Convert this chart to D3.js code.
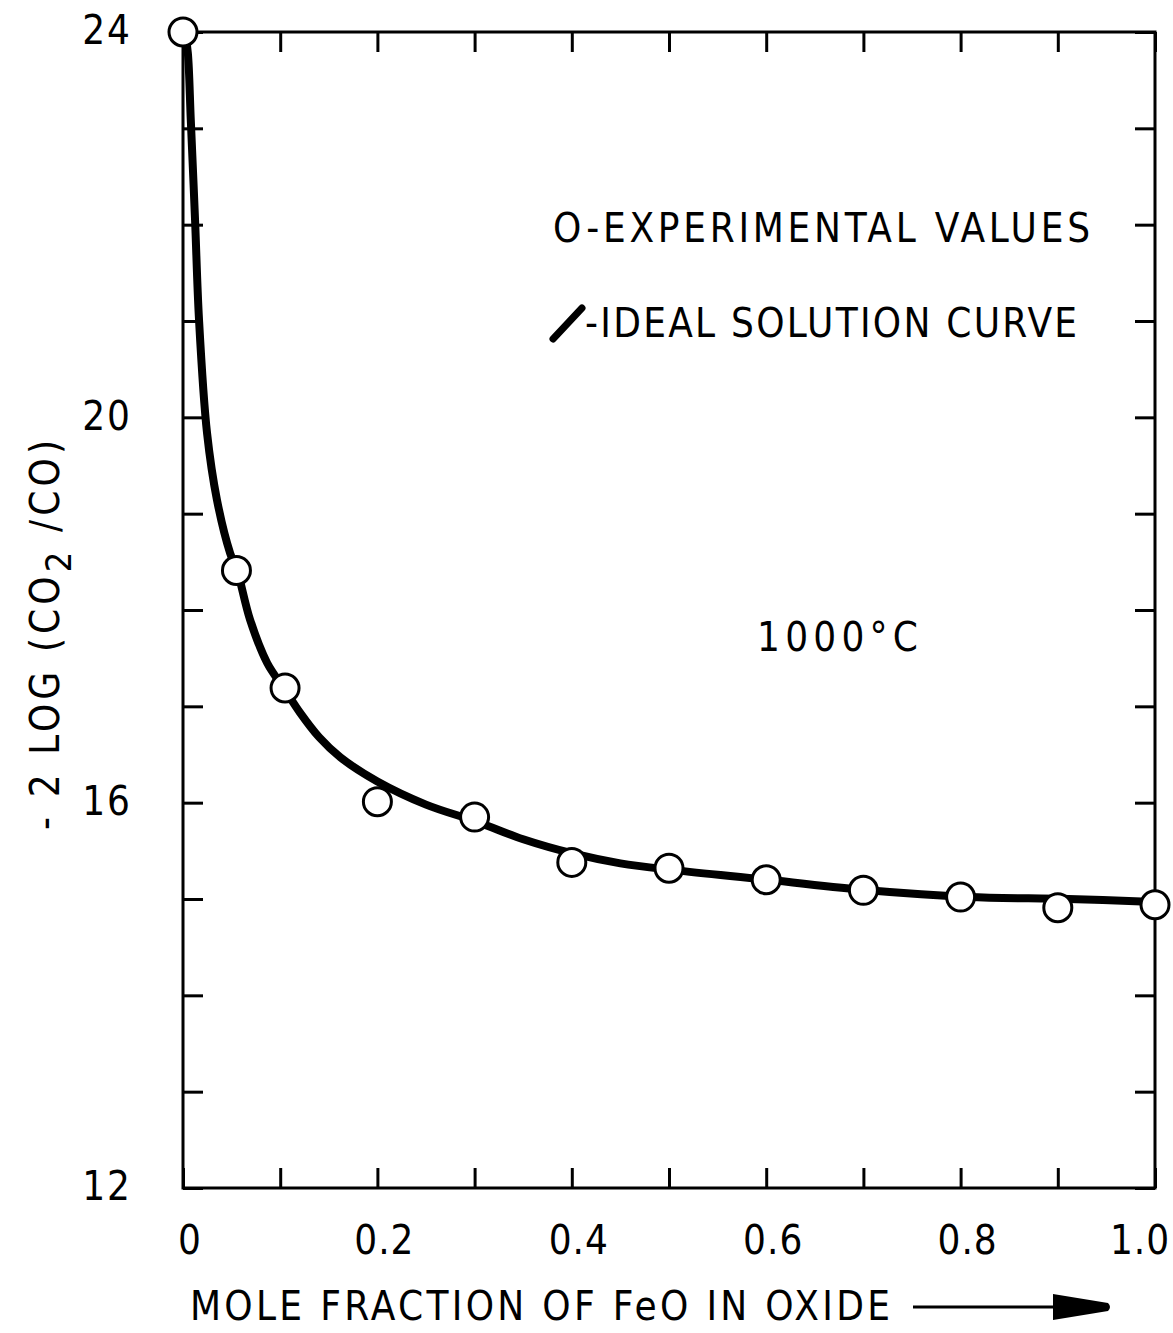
<!DOCTYPE html>
<html>
<head>
<meta charset="utf-8">
<script src="https://cdn.jsdelivr.net/npm/d3@7"></script>
<style>
  html, body { margin: 0; padding: 0; background: #fff; }
  svg { display: block; }
  text { font-family: "DejaVu Sans Condensed", "Liberation Sans Narrow", "Liberation Sans", sans-serif; fill: #000; }
</style>
</head>
<body>
<svg id="chart" width="1173" height="1333"></svg>
<script>
// Experimental values (mole fraction FeO, -2 log(CO2/CO))
const expX = [0, 0.055, 0.105, 0.2, 0.3, 0.4, 0.5, 0.6, 0.7, 0.8, 0.9, 1.0];
const expY = [24.0, 18.41, 17.19, 16.01, 15.85, 15.38, 15.32, 15.20, 15.09, 15.02, 14.91, 14.94];

// Ideal solution curve
const curveX = [0.002, 0.005, 0.008, 0.0124, 0.0165, 0.0247, 0.035, 0.0485, 0.0557, 0.069, 0.0866, 0.105, 0.12, 0.14, 0.162, 0.2, 0.25, 0.303, 0.35, 0.402, 0.45, 0.505, 0.602, 0.705, 0.808, 0.911, 1.0];
const curveY = [24.0, 23.78, 23.09, 22.05, 21.01, 19.84, 19.14, 18.59, 18.41, 17.90, 17.45, 17.17, 16.94, 16.68, 16.47, 16.22, 15.98, 15.80, 15.62, 15.47, 15.37, 15.30, 15.20, 15.09, 15.02, 15.00, 14.97];

const xTickLabels = [0, 0.2, 0.4, 0.6, 0.8, 1.0];
const yTickLabels = [12, 16, 20, 24];
const xMinorTicks = d3.range(0, 11).map(i => i / 10);
const yMinorTicks = d3.range(12, 25);

const svg = d3.select("#chart");
const L = 183, R = 1155, T = 32, B = 1188;
const x = d3.scaleLinear().domain([0, 1]).range([L, R]);
const y = d3.scaleLinear().domain([12, 24]).range([B, T]);
const FS = 40, CAP = 0.72 * FS;

// Frame
svg.append("rect").attr("x", L).attr("y", T).attr("width", R - L).attr("height", B - T)
  .attr("fill", "none").attr("stroke", "#000").attr("stroke-width", 3);

// Ticks (inward on all sides) via d3 axes
const tickLen = 20;
function styleAxis(g) {
  g.select(".domain").remove();
  g.selectAll(".tick line").attr("stroke", "#000").attr("stroke-width", 3);
  g.selectAll(".tick text").remove();
}
svg.append("g").attr("transform", `translate(0,${B})`)
  .call(d3.axisTop(x).tickValues(xMinorTicks).tickSize(tickLen)).call(styleAxis);
svg.append("g").attr("transform", `translate(0,${T})`)
  .call(d3.axisBottom(x).tickValues(xMinorTicks).tickSize(tickLen)).call(styleAxis);
svg.append("g").attr("transform", `translate(${L},0)`)
  .call(d3.axisRight(y).tickValues(yMinorTicks).tickSize(tickLen)).call(styleAxis);
svg.append("g").attr("transform", `translate(${R},0)`)
  .call(d3.axisLeft(y).tickValues(yMinorTicks).tickSize(tickLen)).call(styleAxis);

// Tick labels
svg.append("g").selectAll("text").data(xTickLabels).join("text")
  .attr("x", d => Math.min(x(d) + 7, 1140))
  .attr("y", 1240 + CAP / 2)
  .attr("text-anchor", "middle")
  .attr("font-size", FS)
  .attr("letter-spacing", 1)
  .text(d => d === 0 ? "0" : d.toFixed(1));
svg.append("g").selectAll("text").data(yTickLabels).join("text")
  .attr("x", 132)
  .attr("y", d => y(d) + CAP / 2 - 2)
  .attr("text-anchor", "end")
  .attr("font-size", FS)
  .attr("letter-spacing", 2)
  .text(d => d);

// Ideal solution curve
const line = d3.line().x(d => x(d[0])).y(d => y(d[1])).curve(d3.curveCatmullRom.alpha(0.5));
svg.append("path").datum(d3.zip(curveX, curveY))
  .attr("d", line).attr("fill", "none").attr("stroke", "#000")
  .attr("stroke-width", 8).attr("stroke-linecap", "round").attr("stroke-linejoin", "round");

// Experimental points
svg.append("g").selectAll("circle").data(d3.zip(expX, expY)).join("circle")
  .attr("cx", d => x(d[0])).attr("cy", d => y(d[1])).attr("r", 14)
  .attr("fill", "#fff").attr("stroke", "#000").attr("stroke-width", 3);

// Legend
svg.append("text").attr("x", 553).attr("y", 228 + CAP / 2).attr("font-size", FS)
  .attr("textLength", 537).attr("lengthAdjust", "spacing")
  .text("O-EXPERIMENTAL  VALUES");
svg.append("line").attr("x1", 553).attr("y1", 339).attr("x2", 582).attr("y2", 308)
  .attr("stroke", "#000").attr("stroke-width", 7).attr("stroke-linecap", "round");
svg.append("text").attr("x", 585).attr("y", 323 + CAP / 2).attr("font-size", FS)
  .attr("textLength", 492).attr("lengthAdjust", "spacing")
  .text("-IDEAL SOLUTION CURVE");

// Temperature label
svg.append("text").attr("x", 757).attr("y", 637 + CAP / 2).attr("font-size", FS)
  .attr("textLength", 161).attr("lengthAdjust", "spacing")
  .text("1000°C");

// X axis title with arrow
svg.append("text").attr("x", 190).attr("y", 1306 + CAP / 2).attr("font-size", FS)
  .attr("textLength", 700).attr("lengthAdjust", "spacing")
  .text("MOLE FRACTION OF FeO IN OXIDE");
svg.append("line").attr("x1", 913).attr("y1", 1307).attr("x2", 1060).attr("y2", 1307)
  .attr("stroke", "#000").attr("stroke-width", 3);
svg.append("path").attr("d", "M1053,1294 L1108,1303 Q1112,1307 1108,1311 L1053,1320 Z")
  .attr("fill", "#000");

// Y axis title (rotated) with subscript
const yt = svg.append("text")
  .attr("transform", "translate(" + (45 + CAP / 2) + ",635) rotate(-90)")
  .attr("text-anchor", "middle").attr("font-size", FS)
  .attr("textLength", 390).attr("lengthAdjust", "spacing");
yt.append("tspan").text("- 2 LOG (CO");
yt.append("tspan").attr("dy", 12).attr("font-size", 36).text("2");
yt.append("tspan").attr("dy", -12).text(" /CO)");
</script>
</body>
</html>
